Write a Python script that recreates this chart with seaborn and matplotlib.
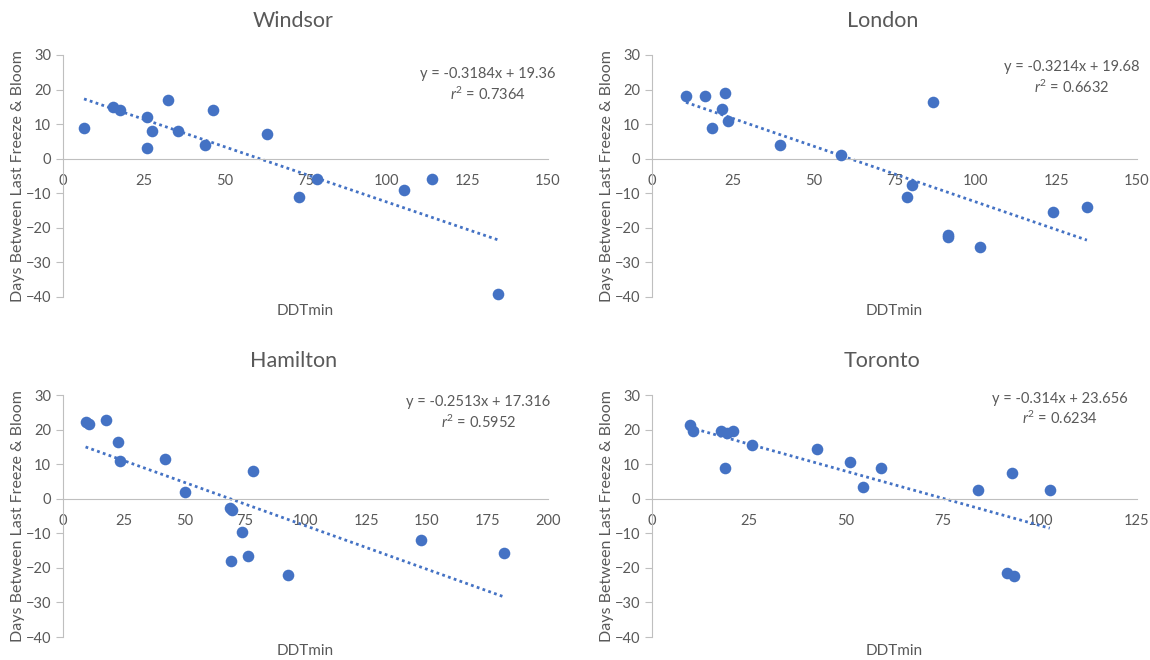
import numpy as np
import pandas as pd
import matplotlib
matplotlib.use('Agg')
import matplotlib.pyplot as plt
import seaborn as sns

# data
windsor_x = [6.5, 15.5, 17.5, 26, 26, 27.5, 32.5, 35.5, 44, 46.5, 63, 73, 78.5, 105.5, 114, 134.5]
windsor_y = [9, 15, 14, 12, 3, 8, 17, 8, 4, 14, 7, -11, -6, -9, -6, -39]

london_x = [10.5, 16.5, 22.5, 21.5, 18.5, 23.5, 39.5, 58.5, 87, 79, 80.5, 91.5, 91.5, 101.5, 124, 134.5]
london_y = [18, 18, 19, 14.5, 9, 11, 4, 1, 16.5, -11, -7.5, -22, -22.6, -25.5, -15.5, -14]

hamilton_x = [9.3, 10.8, 17.9, 22.5, 23.5, 42.2, 50.4, 68.9, 69.7, 78.3, 73.9, 69.2, 76.2, 92.6, 147.6, 181.9]
hamilton_y = [22.1, 21.6, 22.9, 16.4, 11, 11.5, 1.9, -2.7, -3.2, 8, -9.6, -18.1, -16.5, -22, -12, -15.7]

toronto_x = [9.7, 10.6, 17.7, 19.3, 20.9, 18.8, 25.8, 42.6, 51, 54.5, 59.1, 84.1, 92.9, 102.5, 91.4, 93.2]
toronto_y = [21.4, 19.5, 19.5, 18.9, 19.6, 8.9, 15.6, 14.4, 10.6, 3.4, 8.9, 2.4, 7.4, 2.4, -21.5, -22.4]

stations = ['Windsor', 'London', 'Hamilton', 'Toronto']
xs = [windsor_x, london_x, hamilton_x, toronto_x]
ys = [windsor_y, london_y, hamilton_y, toronto_y]
slopes = [-0.3184, -0.3214, -0.2513, -0.314]
intercepts = [19.36, 19.68, 17.316, 23.656]
eq_labels = ['y = -0.3184x + 19.36', 'y = -0.3214x + 19.68', 'y = -0.2513x + 17.316', 'y = -0.314x + 23.656']
r2_labels = ['0.7364', '0.6632', '0.5952', '0.6234']
x_maxes = [150, 150, 200, 125]

sns.set_style('white')
plt.rcParams['font.family'] = ['Lato', 'DejaVu Sans']
plt.rcParams['mathtext.fontset'] = 'custom'
plt.rcParams['mathtext.rm'] = 'Lato'
plt.rcParams['mathtext.it'] = 'Lato:italic'

blue = '#4472C4'
grey_txt = '#595959'
grey_axis = '#BFBFBF'

fig = plt.figure(figsize=(11.5, 6.6), dpi=100)
positions = [(0.0548, 0.55), (0.567, 0.55), (0.0548, 0.0348), (0.567, 0.0348)]
eq_pos = [(0.876, 0.875), (0.866, 0.905), (0.856, 0.925), (0.841, 0.94)]

for i, name in enumerate(stations):
    ax = fig.add_axes([positions[i][0], positions[i][1], 0.4217, 0.3667])
    df = pd.DataFrame({'DDTmin': xs[i], 'days': ys[i]})

    # trendline from the printed coefficients
    xline = np.array([df.DDTmin.min(), df.DDTmin.max()])
    ax.plot(xline, slopes[i] * xline + intercepts[i], color=blue, lw=2,
            linestyle=(0, (1, 1.2)), zorder=2)
    sns.scatterplot(data=df, x='DDTmin', y='days', ax=ax, color=blue, s=70,
                    edgecolor=blue, linewidth=0, zorder=3, clip_on=False)

    ax.set_xlim(0, x_maxes[i])
    ax.set_ylim(-40, 30)
    ax.set_xticks(np.arange(0, x_maxes[i] + 1, 25))
    ax.set_yticks(np.arange(-40, 31, 10))

    for s in ['top', 'right']:
        ax.spines[s].set_visible(False)
    ax.spines['bottom'].set_position(('data', 0))
    ax.spines['bottom'].set_color(grey_axis)
    ax.spines['left'].set_color(grey_axis)
    ax.tick_params(axis='x', length=0, labelsize=10.5, labelcolor=grey_txt, pad=11)
    ax.tick_params(axis='y', length=5, color=grey_axis, labelsize=10.5,
                   labelcolor=grey_txt, left=True)

    ax.set_xlabel('DDTmin', fontsize=11, color=grey_txt)
    ax.xaxis.set_label_coords(0.5, -0.03)
    ax.set_ylabel('Days Between Last Freeze & Bloom', fontsize=11.5, color=grey_txt)
    ax.yaxis.set_label_coords(-0.078, 0.5)

    ax.text(0.475, 1.14, name, transform=ax.transAxes, ha='center', va='center',
            fontsize=15.5, color=grey_txt)
    ax.text(eq_pos[i][0], eq_pos[i][1],
            eq_labels[i] + '\n' + r'$\mathit{r}^2$ = ' + r2_labels[i],
            transform=ax.transAxes, ha='center', va='center', multialignment='center',
            fontsize=10.5, color=grey_txt, linespacing=1.3)

fig.savefig('out.png', dpi=100)
